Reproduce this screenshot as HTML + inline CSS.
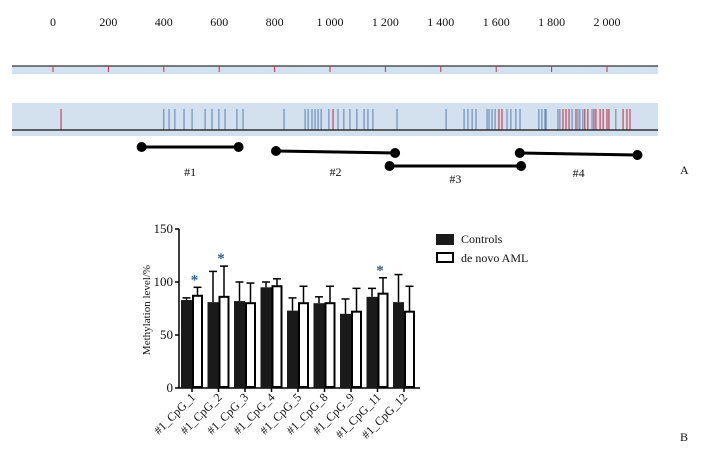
<!DOCTYPE html>
<html><head><meta charset="utf-8"><style>
body{margin:0;background:#fff;}
svg{display:block;font-family:"Liberation Serif",serif;}
</style></head><body>
<svg id="s" width="707" height="461" viewBox="0 0 707 461" xmlns="http://www.w3.org/2000/svg"></svg>
<script>
// ---- Panel A data ----
const seqTicks = [0,200,400,600,800,1000,1200,1400,1600,1800,2000];
const seqTickLabels = ["0","200","400","600","800","1 000","1 200","1 400","1 600","1 800","2 000"];
const cpgBlue = [400,419,440,473,502,549,574,599,621,664,686,834,910,921,935,946,957,968,996,1029,1050,1072,1097,1123,1137,1155,1242,1419,1484,1498,1513,1527,1567,1574,1585,1596,1639,1653,1671,1686,1754,1765,1776,1780,1823,1830,1874,1895,1902,1913,1946,2032];
const cpgRed = [29,1011,1610,1621,1841,1852,1863,1888,1920,1931,1953,1960,1975,1986,2000,2007,2058,2072,2083];
const ampStart = [320,805,1215,1685];
const ampEnd = [670,1235,1690,2110];
const ampNames = ["#1","#2","#3","#4"];
// ---- Panel B data ----
const categories = ["#1_CpG_1","#1_CpG_2","#1_CpG_3","#1_CpG_4","#1_CpG_5","#1_CpG_8","#1_CpG_9","#1_CpG_11","#1_CpG_12"];
const controls = [83,81,82,95,73,80,70,86,81];
const controlsErr = [2,29,18,5,12,6,14,8,26];
const aml = [87,86,80,96,80,80,72,89,72];
const amlErr = [8,29,19,7,16,16,22,15,24];
const significant = [true,true,false,false,false,false,false,true,false];
const yTicks = [0,50,100,150];

const NS="http://www.w3.org/2000/svg";
const svg=document.getElementById('s');
function mk(tag,attrs,parent){const e=document.createElementNS(NS,tag);for(const k in attrs)e.setAttribute(k,attrs[k]);(parent||svg).appendChild(e);return e;}

// Panel A scale
const sx = v => 53 + v/200*55.4;
for(let i=0;i<seqTicks.length;i++){
  const t=mk('text',{x:sx(seqTicks[i]),y:26,'font-size':12,'text-anchor':'middle',fill:'#111'});
  t.textContent=seqTickLabels[i];
  
  
}
const ruler=mk('rect',{x:12,y:66,width:646,height:8,fill:'#d3e1ef'});


mk('line',{x1:12,y1:66,x2:658,y2:66,stroke:'#333','stroke-width':1.2});
for(let i=0;i<seqTicks.length;i++){
  const l=mk('line',{x1:sx(seqTicks[i]),y1:66,x2:sx(seqTicks[i]),y2:72,stroke:'#c0334a','stroke-width':1});
  
  
}
const track=mk('rect',{x:12,y:103,width:646,height:33,fill:'#d3e1ef'});


for(const p of cpgBlue){
  const l=mk('line',{x1:sx(p),y1:109,x2:sx(p),y2:130,stroke:'#5a7fae','stroke-width':1});
  
  
}
for(const p of cpgRed){
  const l=mk('line',{x1:sx(p),y1:109,x2:sx(p),y2:130,stroke:'#c0273c','stroke-width':1});
  
  
}
mk('line',{x1:12,y1:130,x2:658,y2:130,stroke:'#111','stroke-width':1.2});
const ampY=[147,151,166,153], ampY2=[147,153,166,155], labY=[176,176,183,177];
for(let i=0;i<ampStart.length;i++){
  const g=mk('g',{});
  
  
  const x1=sx(ampStart[i]), x2=sx(ampEnd[i]);
  mk('line',{x1:x1,y1:ampY[i],x2:x2,y2:ampY2[i],stroke:'#000','stroke-width':3},g);
  mk('circle',{cx:x1,cy:ampY[i],r:5,fill:'#000'},g);
  mk('circle',{cx:x2,cy:ampY2[i],r:5,fill:'#000'},g);
  const t=mk('text',{x:(x1+x2)/2,y:labY[i],'font-size':12,'text-anchor':'middle',fill:'#111'},g);
  t.textContent=ampNames[i];
}
const A=mk('text',{x:680,y:174,'font-size':12,fill:'#111'});A.textContent='A';


// Panel B
const y0=388, yTop=229;
const sy = v => y0 - v/150*(y0-yTop);
const gx = i => 192 + i*26.5;
const bw=11;
mk('line',{x1:179,y1:yTop,x2:179,y2:y0,stroke:'#000','stroke-width':1.5});
mk('line',{x1:179,y1:y0,x2:420,y2:y0,stroke:'#000','stroke-width':1.5});
for(const v of yTicks){
  mk('line',{x1:175,y1:sy(v),x2:179,y2:sy(v),stroke:'#000','stroke-width':1.5});
  const t=mk('text',{x:173,y:sy(v)+4,'font-size':13,'text-anchor':'end',fill:'#111'});
  t.textContent=v;
  
  
}
const yl=mk('text',{x:0,y:0,'font-size':11,'text-anchor':'middle',fill:'#111',transform:'translate(150,310) rotate(-90)'});
yl.textContent='Methylation level/%';

function errBar(x,top,val){
  mk('line',{x1:x,y1:sy(val),x2:x,y2:sy(top),stroke:'#000','stroke-width':1.5});
  mk('line',{x1:x-4,y1:sy(top),x2:x+4,y2:sy(top),stroke:'#000','stroke-width':1.5});
}
for(let i=0;i<categories.length;i++){
  const cx=gx(i);
  errBar(cx-bw/2,controls[i]+controlsErr[i],controls[i]);
  errBar(cx+bw/2,aml[i]+amlErr[i],aml[i]);
  const b1=mk('rect',{x:cx-bw,y:sy(controls[i]),width:bw,height:y0-sy(controls[i]),fill:'#1a1a1a'});
  
  const b2=mk('rect',{x:cx+1,y:sy(aml[i]),width:bw-2,height:y0-sy(aml[i])-1,fill:'#fff',stroke:'#000','stroke-width':2});
  
  mk('line',{x1:cx,y1:y0,x2:cx,y2:y0+4,stroke:'#000','stroke-width':1.5});
  if(significant[i]){
    const s=mk('text',{x:cx+bw/2-3,y:sy(aml[i]+amlErr[i])-3,'font-size':15,'font-weight':'bold',fill:'#2d5f8a','text-anchor':'middle'});
    s.textContent='*';
    
  }
  const t=mk('text',{x:0,y:0,'font-size':12,'text-anchor':'end',fill:'#111',transform:`translate(${cx+4},${y0+10}) rotate(-45)`});
  t.textContent=categories[i];
  
}
// Legend
const lg=mk('g',{});
mk('rect',{x:436,y:234,width:18,height:11,fill:'#1a1a1a'},lg);
mk('rect',{x:437,y:253,width:16,height:9,fill:'#fff',stroke:'#000','stroke-width':2},lg);
const l1=mk('text',{x:461,y:243,'font-size':12,fill:'#111'},lg);l1.textContent='Controls';
const l2=mk('text',{x:461,y:262,'font-size':12,fill:'#111'},lg);l2.textContent='de novo AML';
const B=mk('text',{x:680,y:441,'font-size':12,fill:'#111'});B.textContent='B';

</script>
</body></html>
